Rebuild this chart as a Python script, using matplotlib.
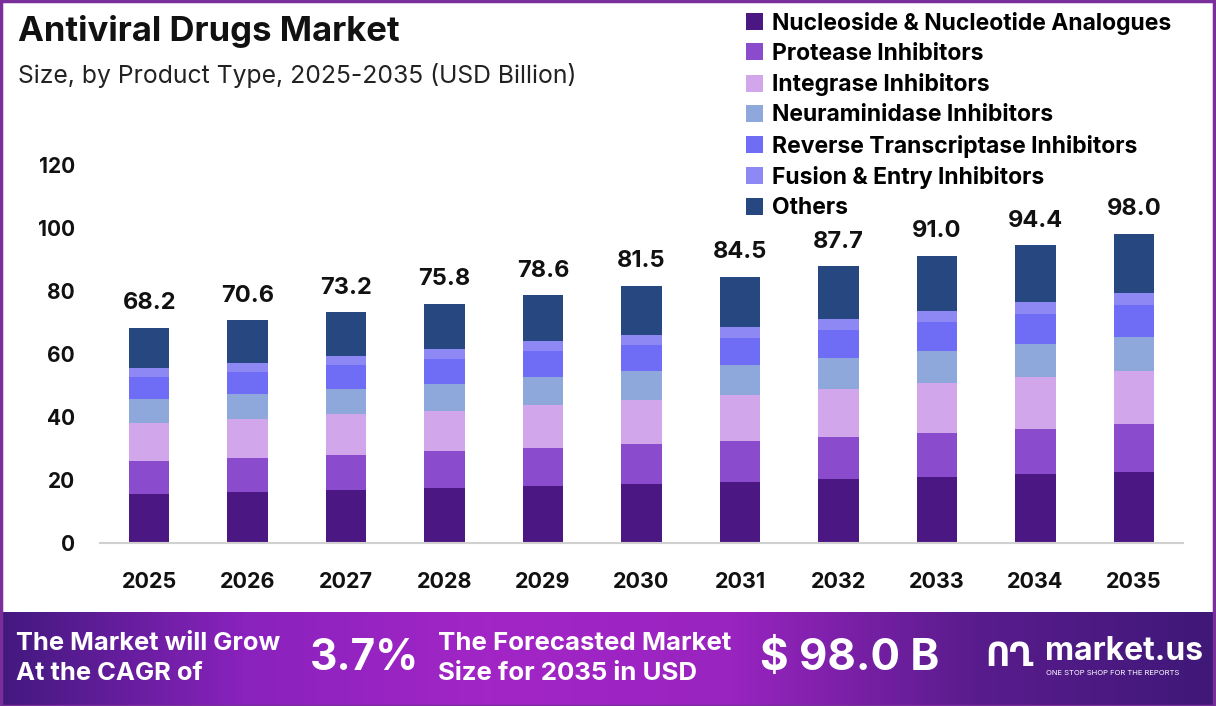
import matplotlib.pyplot as plt
import numpy as np
from matplotlib.colors import LinearSegmentedColormap
from matplotlib.patches import Rectangle

plt.rcParams['font.family'] = ['Inter', 'DejaVu Sans']

years = ["2025", "2026", "2027", "2028", "2029", "2030",
         "2031", "2032", "2033", "2034", "2035"]
totals = [68.2, 70.6, 73.2, 75.8, 78.6, 81.5, 84.5, 87.7, 91.0, 94.4, 98.0]

nucleoside = [15.4, 16.2, 16.8, 17.3, 18.0, 18.7, 19.3, 20.3, 21.0, 21.8, 22.6]
protease = [10.6, 10.8, 11.2, 11.8, 12.2, 12.8, 13.1, 13.4, 14.0, 14.4, 15.2]
integrase = [11.9, 12.2, 12.8, 12.8, 13.6, 13.8, 14.5, 15.0, 15.7, 16.3, 16.7]
neuraminidase = [7.8, 8.0, 8.0, 8.6, 8.9, 9.3, 9.5, 9.9, 10.2, 10.5, 10.8]
reverse_transcriptase = [6.8, 7.1, 7.7, 7.7, 8.1, 8.3, 8.6, 8.9, 9.3, 9.6, 10.3]
fusion_entry = [2.9, 2.9, 2.9, 3.2, 3.1, 3.2, 3.5, 3.5, 3.4, 3.8, 3.7]
others = [12.8, 13.4, 13.8, 14.4, 14.7, 15.4, 16.0, 16.7, 17.4, 18.0, 18.7]

segment_names = ["Nucleoside & Nucleotide Analogues", "Protease Inhibitors",
                 "Integrase Inhibitors", "Neuraminidase Inhibitors",
                 "Reverse Transcriptase Inhibitors", "Fusion & Entry Inhibitors",
                 "Others"]
segment_values = [nucleoside, protease, integrase, neuraminidase,
                  reverse_transcriptase, fusion_entry, others]
segment_colors = ["#4b1782", "#8a4ccc", "#d2a6ea", "#8fa8dc",
                  "#6f6cf6", "#8e88f5", "#26477f"]

W, H = 1216, 706
fig = plt.figure(figsize=(W / 100, H / 100), dpi=100)

# footer band with purple gradient
band = fig.add_axes([0, 0, 1, 94 / H])
band.set_axis_off()
cmap = LinearSegmentedColormap.from_list(
    "band", ["#43197f", "#8a22bd", "#a226c6", "#9a24c0", "#5a1c8e", "#3f1878"])
band.imshow(np.linspace(0, 1, 300).reshape(1, -1), aspect="auto", cmap=cmap,
            extent=[0, 1, 0, 1])
band.set_xlim(0, 1)
band.set_ylim(0, 1)

# chart
ax = fig.add_axes([100 / W, (H - 543) / H, 1083 / W, 410 / H])
x = np.arange(len(years))
bottom = np.zeros(len(years))
for name, vals, color in zip(segment_names, segment_values, segment_colors):
    ax.bar(x, vals, width=0.41, bottom=bottom, color=color, label=name, zorder=2)
    bottom += np.array(vals)

for xi, total in zip(x, totals):
    ax.text(xi, total + 4.3, f"{total:.1f}", ha="center", va="bottom",
            fontsize=17, fontweight="bold", color="#111111")

ax.set_xlim(-0.5, len(years) - 0.5)
ax.set_ylim(0, 130)
ax.set_yticks(range(0, 121, 20))
ax.set_xticks(x)
ax.set_xticklabels(years)
ax.tick_params(axis="y", length=0, labelsize=15, pad=18)
ax.tick_params(axis="x", length=0, labelsize=15.5, pad=21)
for lab in ax.get_xticklabels() + ax.get_yticklabels():
    lab.set_fontweight("bold")
    lab.set_color("#111111")
for side in ["top", "right", "left"]:
    ax.spines[side].set_visible(False)
ax.spines["bottom"].set_color("#d0d0d0")
ax.spines["bottom"].set_linewidth(1.5)

# titles
fig.text(18 / W, 1 - 32 / H, "Antiviral Drugs Market", fontsize=25,
         fontweight="bold", va="center", ha="left", color="#111111")
fig.text(18 / W, 1 - 75 / H, "Size, by Product Type, 2025-2035 (USD Billion)",
         fontsize=17.8, va="center", ha="left", color="#222222")

# legend
handles, labels = ax.get_legend_handles_labels()
fig.legend(handles, labels, loc="upper left",
           bbox_to_anchor=(725 / W, 1 + 9 / H), frameon=False,
           handlelength=0.75, handleheight=0.75,
           handletextpad=0.4, labelspacing=0.36,
           prop={"weight": "bold", "size": 16.5})

# footer texts
fig.text(16 / W, 1 - 643 / H, "The Market will Grow", color="white",
         fontsize=18.4, fontweight="bold", va="center")
fig.text(16 / W, 1 - 673 / H, "At the CAGR of", color="white",
         fontsize=18.4, fontweight="bold", va="center")
fig.text(310 / W, 1 - 658 / H, "3.7%", color="white",
         fontsize=30.5, fontweight="bold", va="center")
fig.text(438 / W, 1 - 643 / H, "The Forecasted Market", color="white",
         fontsize=18.6, fontweight="bold", va="center")
fig.text(438 / W, 1 - 673 / H, "Size for 2035 in USD", color="white",
         fontsize=18.6, fontweight="bold", va="center")
fig.text(760 / W, 1 - 658 / H, "$ 98.0 B", color="white",
         fontsize=31.5, fontweight="bold", va="center")
fig.text(1045 / W, 1 - 652 / H, "market.us", color="white",
         fontsize=23, fontweight="bold", va="center")
fig.text(1046 / W, 1 - 673 / H, "ONE STOP SHOP FOR THE REPORTS", color="white",
         fontsize=5.5, va="center")
fig.text(985 / W, 1 - 657 / H, "ՈՂ", color="white",
         fontsize=24, fontweight="bold", va="center", family="DejaVu Sans")

# purple frame
fig.patches.append(Rectangle((1 / W, 0), 1 - 3 / W, 1 - 1 / H, transform=fig.transFigure,
                             fill=False, edgecolor="#7a2e9c", linewidth=2.5))

fig.savefig("out.png", dpi=100)
